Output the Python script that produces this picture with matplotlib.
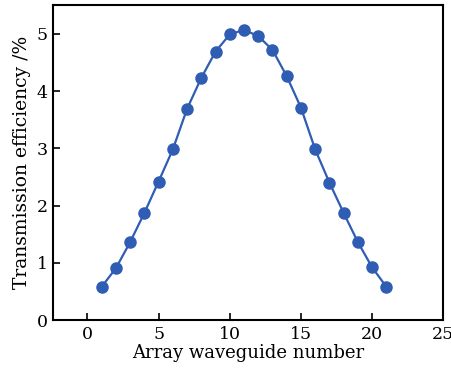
import matplotlib
matplotlib.use("Agg")
import matplotlib.pyplot as plt

waveguide = [1, 2, 3, 4, 5, 6, 7, 8, 9, 10, 11, 12, 13, 14, 15, 16, 17, 18, 19, 20, 21]
efficiency = [0.58, 0.905, 1.36, 1.87, 2.42, 2.98, 3.69, 4.23, 4.69, 4.99, 5.07,
              4.96, 4.72, 4.26, 3.71, 2.98, 2.40, 1.87, 1.36, 0.92, 0.58]
xticks = [0, 5, 10, 15, 20, 25]
yticks = [0, 1, 2, 3, 4, 5]

plt.rcParams['font.family'] = ['DejaVu Serif']
fig = plt.figure(figsize=(4.51, 3.73), dpi=100)
ax = fig.add_axes([0.118, 0.142, 0.865, 0.844])
ax.plot(waveguide, efficiency, '-o', color='#2f5db3', lw=1.6, ms=8)
ax.set_xlim(-2.4, 25)
ax.set_ylim(0, 5.5)
ax.set_xticks(xticks)
ax.set_yticks(yticks)
ax.tick_params(direction='in', length=5, width=1.2, labelsize=12.5, pad=4)
for s in ax.spines.values():
    s.set_linewidth(1.5)
ax.set_xlabel('Array waveguide number', fontsize=13, labelpad=1)
ax.set_ylabel('Transmission efficiency /%', fontsize=13.5, labelpad=4)
fig.savefig('out.png', dpi=100)
